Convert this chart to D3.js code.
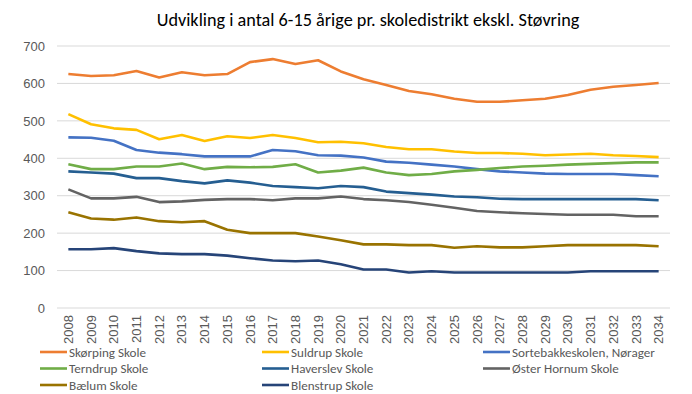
<!DOCTYPE html>
<html lang="da">
<head>
<meta charset="UTF-8">
<title>Udvikling i antal 6-15 årige</title>
<script src="https://d3js.org/d3.v7.min.js"></script>
<style>
  body { margin: 0; background: #fff; }
  svg { font-family: Calibri, Carlito, Lato, "Liberation Sans", sans-serif; }
</style>
</head>
<body>
<svg id="chart" width="692" height="394"></svg>
<script>
// years on the x axis
const years = d3.range(2008, 2035).map(String);

// one array per school
const skoerping   = [625,620,622,633,616,630,622,625,657,665,652,662,632,611,596,580,571,559,551,551,555,559,569,583,591,596,601];
const suldrup     = [518,491,480,476,451,462,446,459,454,462,454,443,444,440,430,424,424,418,414,414,412,408,410,412,408,406,403];
const sortebakke  = [456,455,447,422,415,411,405,405,405,422,419,408,407,402,391,388,383,378,371,365,362,359,358,358,358,355,352];
const terndrup    = [384,371,371,378,378,386,371,377,376,377,384,362,367,375,362,355,358,365,369,374,378,380,383,385,387,389,389];
const haverslev   = [365,362,359,347,347,339,333,341,335,326,323,320,326,323,311,307,303,298,296,292,291,291,291,291,291,291,288];
const oesterHornum= [317,293,293,297,283,285,289,291,291,288,293,293,298,291,288,283,276,268,259,256,253,251,249,249,249,245,245];
const baelum      = [256,239,236,242,232,229,232,209,200,200,200,191,181,170,170,168,168,161,165,162,162,165,168,168,168,168,165];
const blenstrup   = [157,157,160,152,146,144,144,140,133,127,125,127,117,103,103,95,98,95,95,95,95,95,95,98,98,98,98];

const seriesNames = ["Skørping Skole","Suldrup Skole","Sortebakkeskolen, Nørager","Terndrup Skole","Haverslev Skole","Øster Hornum Skole","Bælum Skole","Blenstrup Skole"];
const seriesValues = [skoerping, suldrup, sortebakke, terndrup, haverslev, oesterHornum, baelum, blenstrup];
const colors = ["#ED7D31","#FFC000","#4472C4","#70AD47","#255E91","#636363","#997300","#264478"];
const yTicks = [0,100,200,300,400,500,600,700];

const svg = d3.select("#chart");
const margin = {left: 57, right: 22, top: 46, bottom: 86};
const W = 692, H = 394;

const x = d3.scaleBand().domain(years).range([margin.left, W - margin.right]);
const y = d3.scaleLinear().domain([0, 700]).range([H - margin.bottom, margin.top]);

// scale a text's font so it spans the wanted width
function fitWidth(sel, size, width) {
  sel.attr("font-size", size);
  const w = sel.node().getComputedTextLength();
  return size * width / w;
}

// title
const title = svg.append("text")
  .attr("x", 368).attr("y", 26)
  .attr("text-anchor", "middle")
  .attr("fill", "#000")
  .text("Udvikling i antal 6-15 årige pr. skoledistrikt ekskl. Støvring");
title.attr("font-size", fitWidth(title, 18, 423));

// gridlines
svg.append("g")
  .selectAll("line")
  .data(yTicks)
  .enter().append("line")
  .attr("x1", margin.left).attr("x2", W - margin.right)
  .attr("y1", d => y(d)).attr("y2", d => y(d))
  .attr("stroke", "#d9d9d9").attr("stroke-width", 1);

// y axis labels
const yAxis = svg.append("g")
  .attr("transform", `translate(${margin.left},0)`)
  .call(d3.axisLeft(y).tickValues(yTicks).tickSize(0).tickPadding(12));
yAxis.select(".domain").remove();
yAxis.selectAll("text").attr("font-size", 13).attr("fill", "#595959")
  .style("font-family", "inherit");

// x axis labels (rotated)
const xAxis = svg.append("g")
  .attr("transform", `translate(0,${y(0)})`)
  .call(d3.axisBottom(x).tickSize(0).tickPadding(0));
xAxis.select(".domain").remove();
xAxis.selectAll("text")
  .attr("font-size", 13).attr("fill", "#595959")
  .style("font-family", "inherit")
  .attr("text-anchor", "end")
  .attr("dy", "0.35em")
  .attr("transform", "translate(0,7) rotate(-90)")
  .attr("x", 0).attr("y", 0);

// lines
const line = d3.line()
  .x((d, i) => x(years[i]) + x.bandwidth() / 2)
  .y(d => y(d));

svg.append("g")
  .selectAll("path")
  .data(seriesValues)
  .enter().append("path")
  .attr("fill", "none")
  .attr("stroke", (d, i) => colors[i])
  .attr("stroke-width", 2.6)
  .attr("stroke-linejoin", "round")
  .attr("d", line);

// legend, 3 columns
const colX = [40, 262, 483];
const rowY = [352, 368.5, 385];
const legend = svg.append("g")
  .selectAll("g")
  .data(seriesNames)
  .enter().append("g")
  .attr("transform", (d, i) => `translate(${colX[i % 3]},${rowY[Math.floor(i / 3)]})`);
legend.append("line")
  .attr("x1", 0).attr("x2", 27)
  .attr("stroke", (d, i) => colors[i])
  .attr("stroke-width", 2.6);
const legendText = legend.append("text")
  .attr("x", 29).attr("dy", "0.35em")
  .attr("fill", "#595959")
  .text(d => d);
const legendSize = fitWidth(legendText.filter((d, i) => i === 2), 13, 143);
legendText.attr("font-size", legendSize);
</script>
</body>
</html>
